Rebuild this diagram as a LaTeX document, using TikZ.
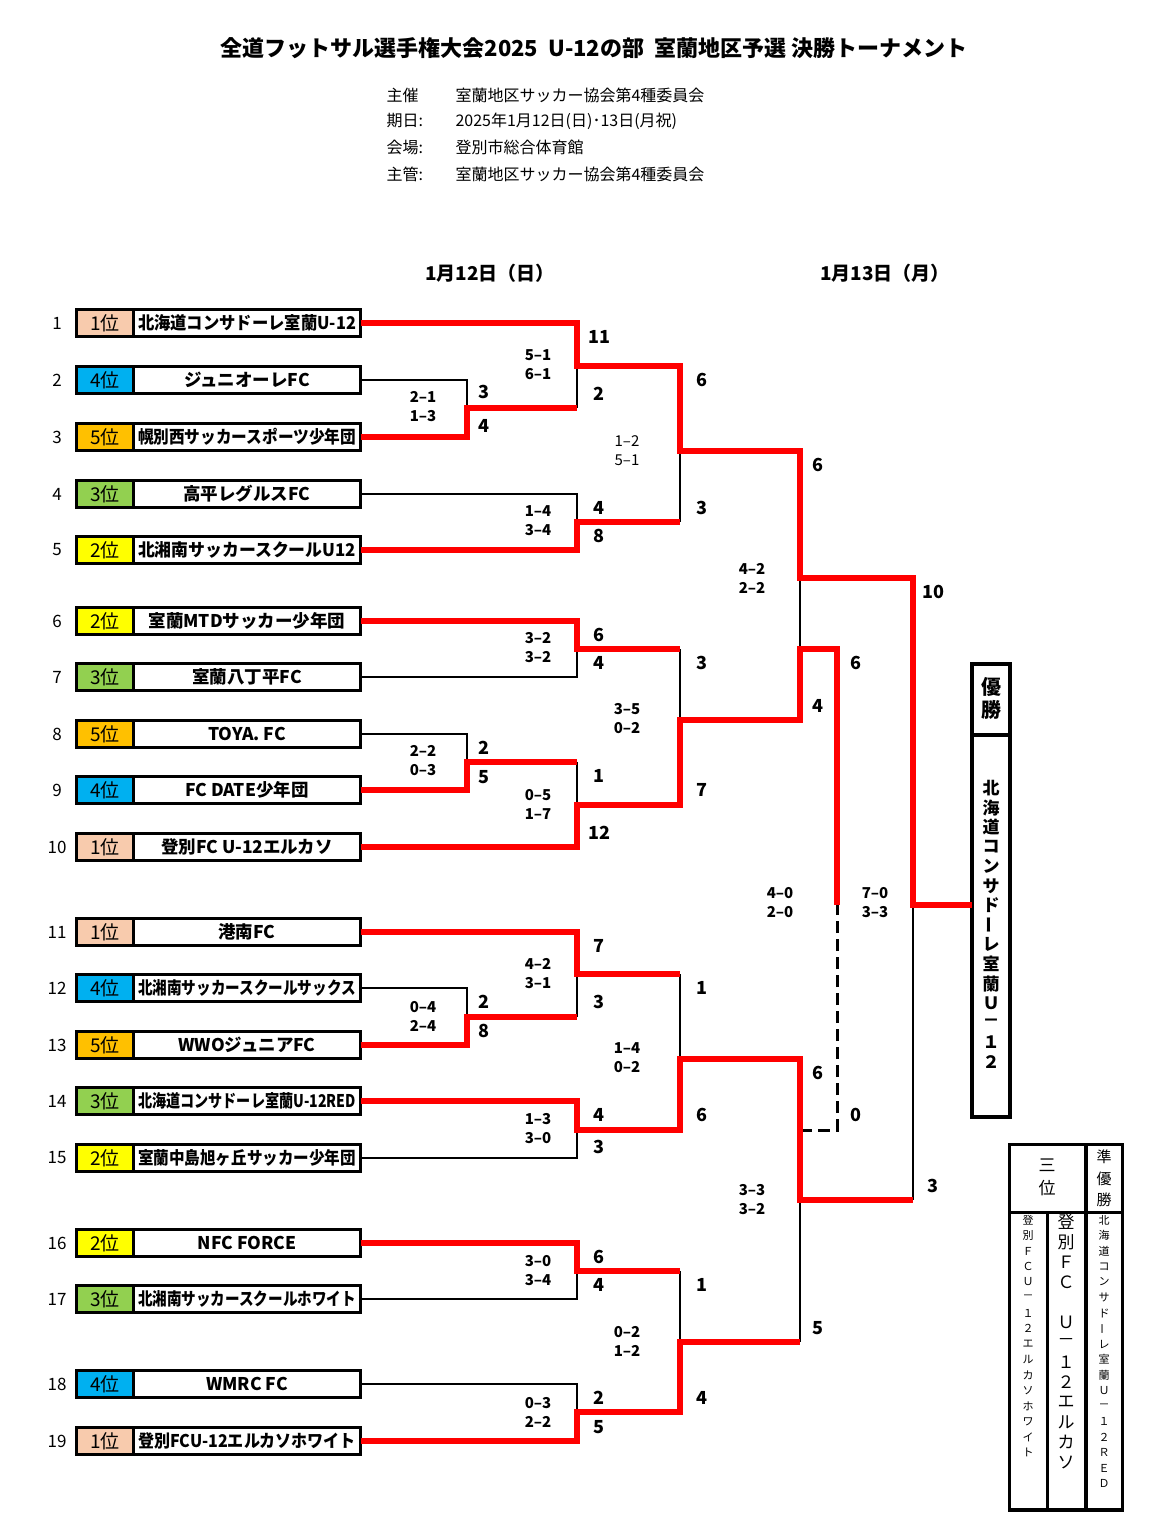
\documentclass[tikz,border=0pt]{standalone}
\usepackage{fontspec}
\setmainfont{Noto Sans CJK JP}
\usepackage{graphicx}
\usetikzlibrary{positioning}

\definecolor{rk1}{HTML}{F8CBAD}
\definecolor{rk2}{HTML}{FFFF00}
\definecolor{rk3}{HTML}{92D050}
\definecolor{rk4}{HTML}{00B0F0}
\definecolor{rk5}{HTML}{FFC000}

% squeeze long team names into the cell
\newsavebox\namebox
\newcommand\fitname[1]{%
  \sbox\namebox{#1}%
  \pgfmathsetmacro\namescale{min(1,218/\the\wd\namebox)}%
  \scalebox{\namescale}[1]{\usebox\namebox}}
\newcommand\vchoon{\rotatebox[origin=c]{90}{ー}}

\begin{document}
\begin{tikzpicture}[x=1pt, y=-1pt,
  rankcell/.style={draw, line width=3pt, minimum width=57pt, minimum height=27pt, inner sep=0pt, outer sep=0pt, font=\fontsize{19}{19}\selectfont},
  namecell/.style={draw, line width=3pt, fill=white, minimum width=227pt, minimum height=27pt, inner sep=0pt, outer sep=0pt, font=\bfseries\fontsize{17.5}{17.5}\selectfont},
  seed/.style={font=\fontsize{17}{17}\selectfont},
  lbl/.style={font=\bfseries\fontsize{18}{18}\selectfont},
  score/.style={align=center, inner sep=0pt, font=\bfseries\fontsize{15}{19}\selectfont},
  hdr/.style={anchor=west, font=\fontsize{16}{16}\selectfont},
  redline/.style={red, line width=6pt},
  blackline/.style={black, line width=2.5pt},
  thirdline/.style={black, line width=3pt, dash pattern=on 12pt off 6pt},
  frame/.style={draw, line width=3.5pt, inner sep=0pt, outer sep=0pt}]

\fill[white] (0,0) rectangle (1172,1526);
\useasboundingbox (0,0) rectangle (1172,1526);

% heading
\node[font=\bfseries\fontsize{22}{22}\selectfont] (title) at (594,48) {全道フットサル選手権大会2025\ \ U-12の部\ \ 室蘭地区予選 決勝トーナメント};
\node[hdr] (k1) at (383,95) {主催};
\node[hdr] (v1) at (452,95) {室蘭地区サッカー協会第4種委員会};
\node[hdr] (k2) at (383,121) {期日:};
\node[hdr] (v2) at (452,121) {2025年1月12日(日)･13日(月祝)};
\node[hdr] (k3) at (383,147) {会場:};
\node[hdr] (v3) at (452,147) {登別市総合体育館};
\node[hdr] (k4) at (383,174) {主管:};
\node[hdr] (v4) at (452,174) {室蘭地区サッカー協会第4種委員会};
\node[font=\bfseries\fontsize{19}{19}\selectfont] (day1) at (490,273) {1月12日（日）};
\node[font=\bfseries\fontsize{19}{19}\selectfont] (day2) at (885,273) {1月13日（月）};

% teams
\foreach \i/\y/\rk/\nm in {1/323/1/北海道コンサドーレ室蘭U-12, 2/380/4/ジュニオーレFC,
    3/437/5/幌別西サッカースポーツ少年団, 4/494/3/高平レグルスFC, 5/550/2/北湘南サッカースクールU12,
    6/621/2/室蘭MTDサッカー少年団, 7/677/3/室蘭八丁平FC, 8/734/5/TOYA. FC, 9/790/4/FC DATE少年団,
    10/847/1/登別FC U-12エルカソ, 11/932/1/港南FC, 12/988/4/北湘南サッカースクールサックス,
    13/1045/5/WWOジュニアFC, 14/1101/3/北海道コンサドーレ室蘭U-12RED, 15/1158/2/室蘭中島旭ヶ丘サッカー少年団,
    16/1243/2/NFC FORCE, 17/1299/3/北湘南サッカースクールホワイト, 18/1384/4/WMRC FC,
    19/1441/1/登別FCU-12エルカソホワイト}{
  \node[seed] (n\i) at (57,\y) {\i};
  \node[rankcell, fill=rk\rk] (r\i) at (105,\y) {\rk 位};
  \node[namecell, right=0pt of r\i] (t\i) {\fitname{\nm}};
}

% champion box
\node[frame, minimum width=38pt, minimum height=71pt] (champhd) at (991,699.5) {};
\node[frame, minimum width=38pt, minimum height=382pt, below=0pt of champhd] (champ) {};
\node[font=\bfseries\fontsize{20}{20}\selectfont] (yu) at (991,687) {優};
\node[font=\bfseries\fontsize{20}{20}\selectfont] (sho) at (991,710) {勝};
\foreach \c [count=\k] in {北,海,道,コ,ン,サ,ド,\vchoon,レ,室,蘭,Ｕ,－,１,２}
  \node[font=\bfseries\fontsize{17}{17}\selectfont] (cw\k) at (991,{788+19.57*(\k-1)}) {\c};

% junctions
\coordinate (mA) at (467,408);
\coordinate (mB) at (577,366);
\coordinate (mC) at (577,522);
\coordinate (mD) at (680,451);
\coordinate (mE) at (577,649);
\coordinate (mF) at (467,762);
\coordinate (mG) at (577,805);
\coordinate (mH) at (680,720);
\coordinate (mI) at (800,578);
\coordinate (sI) at (800,649);
\coordinate (th) at (837,905);
\coordinate (mJ) at (467,1017);
\coordinate (mK) at (577,974);
\coordinate (mL) at (577,1130);
\coordinate (mM) at (680,1059);
\coordinate (mN) at (577,1271);
\coordinate (mO) at (577,1412);
\coordinate (mP) at (680,1342);
\coordinate (mQ) at (800,1200);
\coordinate (sQ) at (800,1130);
\coordinate (fin) at (913,905);

% losers
\draw[blackline] (t2.east) -| (mA);
\draw[blackline] (mA -| mB) -- (mB);
\draw[blackline] (t4.east) -| (mC);
\draw[blackline] (mC -| mD) -- (mD);
\draw[blackline] (t7.east) -| (mE);
\draw[blackline] (t8.east) -| (mF);
\draw[blackline] (mF -| mG) -- (mG);
\draw[blackline] (mE -| mH) -- (mH);
\draw[blackline] (mI) -- (sI);
\draw[blackline] (t12.east) -| (mJ);
\draw[blackline] (mJ -| mK) -- (mK);
\draw[blackline] (t15.east) -| (mL);
\draw[blackline] (mK -| mM) -- (mM);
\draw[blackline] (t17.east) -| (mN);
\draw[blackline] (t18.east) -| (mO);
\draw[blackline] (mN -| mP) -- (mP);
\draw[blackline] (mP -| mQ) -- (mQ);
\draw[blackline] (mQ -| fin) -- (fin);
\draw[thirdline] (sQ) -- (sQ -| th) -- (th);

% winners
\draw[redline] (t1.east) -| (mB) -- (mB -| mD) -- (mD) -- (mD -| mI) -- (mI) -- (mI -| fin) -- (fin) -- (fin -| champ.west);
\draw[redline] (t3.east) -| (mA) -- (mA -| mB);
\draw[redline] (t5.east) -| (mC) -- (mC -| mD);
\draw[redline] (t6.east) -| (mE) -- (mE -| mH);
\draw[redline] (t9.east) -| (mF) -- (mF -| mG);
\draw[redline] (t10.east) -| (mG) -- (mG -| mH) -- (mH) -- (mH -| mI) -- (sI) -- (sI -| th) -- (th);
\draw[redline] (t11.east) -| (mK) -- (mK -| mM);
\draw[redline] (t13.east) -| (mJ) -- (mJ -| mK);
\draw[redline] (t14.east) -| (mL) -- (mL -| mM) -- (mM) -- (mM -| mQ) -- (mQ) -- (mQ -| fin);
\draw[redline] (t16.east) -| (mN) -- (mN -| mP);
\draw[redline] (t19.east) -| (mO) -- (mO -| mP) -- (mP) -- (mP -| mQ);

% goals
\foreach \x/\y/\t [count=\k] in {484/392/3, 484/426/4, 599/337/11, 599/394/2, 599/508/4, 599/536/8,
    702/380/6, 702/508/3, 599/635/6, 599/663/4, 484/748/2, 484/777/5, 599/776/1, 599/833/12,
    702/663/3, 702/790/7, 818/465/6, 818/706/4, 856/663/6, 856/1115/0, 933/592/10, 933/1186/3,
    599/946/7, 599/1002/3, 484/1002/2, 484/1031/8, 599/1115/4, 599/1147/3, 702/988/1, 702/1115/6,
    599/1257/6, 599/1285/4, 599/1398/2, 599/1427/5, 702/1285/1, 702/1398/4, 818/1073/6, 818/1328/5}
  \node[lbl] (g\k) at (\x,\y) {\t};

% half scores
\foreach \x/\y/\a/\b [count=\k] in {538/365/5–1/6–1, 423/407/2–1/1–3, 538/521/1–4/3–4,
    538/648/3–2/3–2, 423/761/2–2/0–3, 538/804/0–5/1–7, 627/719/3–5/0–2, 752/578/4–2/2–2,
    780/903/4–0/2–0, 875/903/7–0/3–3, 538/974/4–2/3–1, 423/1016/0–4/2–4, 538/1129/1–3/3–0,
    627/1058/1–4/0–2, 538/1271/3–0/3–4, 538/1412/0–3/2–2, 627/1341/0–2/1–2, 752/1200/3–3/3–2}
  \node[score] (s\k) at (\x,\y) {\a\\\b};
\node[score, font=\fontsize{15}{19}\selectfont] (s0) at (627,451) {1–2\\5–1};

% places
\node[frame, minimum width=113pt, minimum height=365.5pt] (podium) at (1066,1327.25) {};
\coordinate (pd) at (1047.5,1212.5);
\coordinate (pe) at (1086,1212.5);
\draw[line width=3.5pt] (podium.west |- pd) -- (podium.east |- pd);
\draw[line width=3.5pt] (pe |- podium.north) -- (pe |- podium.south);
\draw[line width=3.5pt] (pd) -- (pd |- podium.south);
\node[font=\fontsize{17}{17}\selectfont] (san) at (1047,1165) {三};
\node[font=\fontsize{17}{17}\selectfont] (i) at (1047,1188) {位};
\foreach \c [count=\k] in {準,優,勝}
  \node[font=\fontsize{15}{15}\selectfont] (ju\k) at (1104,{1157+21.5*(\k-1)}) {\c};
\foreach \c [count=\k] in {登,別,Ｆ,Ｃ,Ｕ,－,１,２,エ,ル,カ,ソ,ホ,ワ,イ,ト}
  \node[font=\fontsize{11}{11}\selectfont] (pa\k) at (1028,{1220+15.5*(\k-1)}) {\c};
\foreach \c [count=\k] in {登,別,Ｆ,Ｃ,{},Ｕ,－,１,２,エ,ル,カ,ソ}
  \node[font=\fontsize{17}{17}\selectfont] (pb\k) at (1066,{1222+20*(\k-1)}) {\c};
\foreach \c [count=\k] in {北,海,道,コ,ン,サ,ド,\vchoon,レ,室,蘭,Ｕ,－,１,２,Ｒ,Ｅ,Ｄ}
  \node[font=\fontsize{11}{11}\selectfont] (pc\k) at (1104,{1220+15.5*(\k-1)}) {\c};
\end{tikzpicture}
\end{document}
